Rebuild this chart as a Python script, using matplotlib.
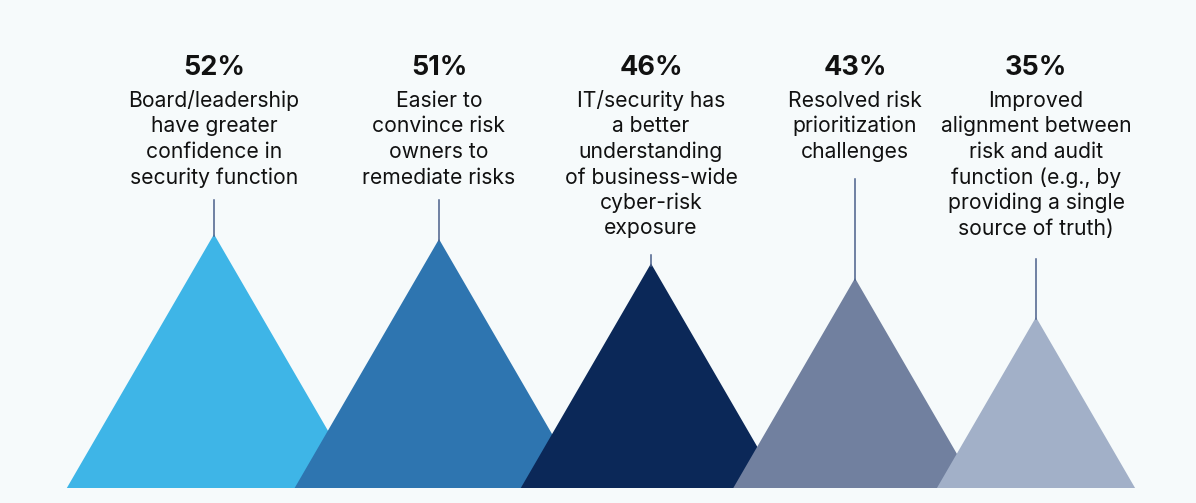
import matplotlib.pyplot as plt
from matplotlib.patches import Polygon

values = [52, 51, 46, 43, 35]
pct_labels = ["52%", "51%", "46%", "43%", "35%"]
labels = [
    ["Board/leadership", "have greater", "confidence in", "security function"],
    ["Easier to", "convince risk", "owners to", "remediate risks"],
    ["IT/security has", "a better", "understanding", "of business-wide", "cyber-risk", "exposure"],
    ["Resolved risk", "prioritization", "challenges"],
    ["Improved", "alignment between", "risk and audit", "function (e.g., by", "providing a single", "source of truth)"],
]
colors = ["#3eb5e7", "#2e75b0", "#0b2858", "#71809f", "#a2b0c8"]

# layout (pixels)
centers = [214, 439, 651, 855, 1036]
line_tops = [200, 200, 255, 179, 259]
base_y = 488
px_per_pct = 4.88
half_ratio = 0.58

plt.rcParams['font.family'] = ['Inter', 'DejaVu Sans']

fig = plt.figure(figsize=(11.96, 5.03), dpi=100)
fig.patch.set_facecolor("#f6fafb")
ax = fig.add_axes([0, 0, 1, 1])
ax.set_xlim(0, 1196)
ax.set_ylim(503, 0)
ax.axis("off")

for i, v in enumerate(values):
    cx = centers[i]
    h = v * px_per_pct
    apex = base_y - h
    hw = h * half_ratio
    tri = Polygon([(cx - hw, base_y), (cx, apex), (cx + hw, base_y)],
                  closed=True, facecolor=colors[i], edgecolor="none", zorder=2 + i)
    ax.add_patch(tri)
    ax.plot([cx, cx], [line_tops[i], apex + 2], color="#4a5f8a", lw=1.1, zorder=20)

    ax.text(cx, 75, pct_labels[i], ha="center", va="baseline",
            fontsize=19.5, fontweight="bold", color="#111111")
    for j, line in enumerate(labels[i]):
        ax.text(cx, 107 + j * 25.5, line, ha="center", va="baseline",
                fontsize=15.2, color="#111111")

fig.savefig("out.png", dpi=100, facecolor=fig.get_facecolor())
